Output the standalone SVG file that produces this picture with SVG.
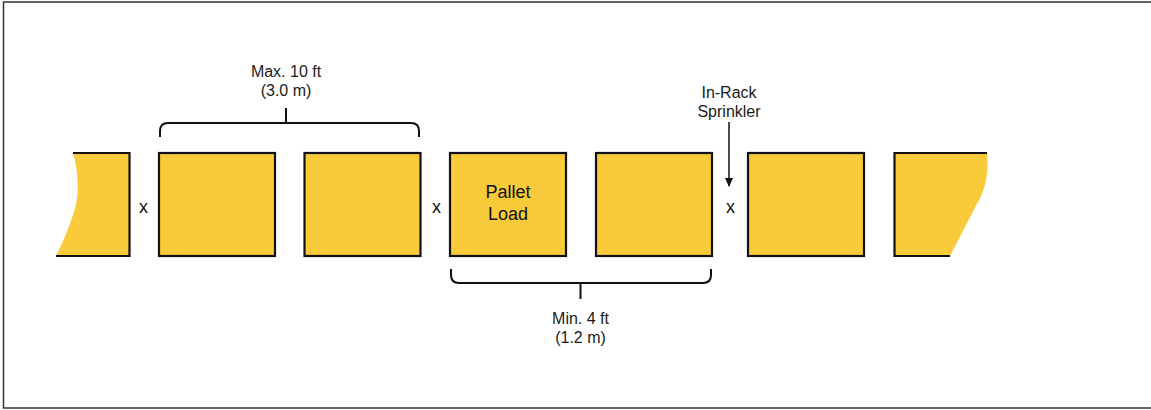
<svg xmlns="http://www.w3.org/2000/svg" width="1151" height="410" viewBox="0 0 1151 410">
<defs>
<style>
.box{fill:#F9CA39;stroke:#111;stroke-width:2.2}
.fill{fill:#F9CA39;stroke:none}
.edge{fill:none;stroke:#111;stroke-width:2.2}
.br{fill:none;stroke:#111;stroke-width:2}
.t{font-family:"Liberation Sans",Arial,sans-serif;font-size:16px;fill:#1a1a1a;text-anchor:middle}
.tx{font-family:"Liberation Sans",Arial,sans-serif;font-size:18px;fill:#111;text-anchor:middle}
.tl{font-family:"Liberation Sans",Arial,sans-serif;font-size:18px;fill:#111;text-anchor:middle}
</style>
<marker id="ah" markerWidth="10" markerHeight="10" refX="8" refY="5" orient="auto" markerUnits="userSpaceOnUse">
<path d="M0,1 L9,5 L0,9 Z" fill="#111"/>
</marker>
</defs>
<rect x="0" y="0" width="1151" height="410" fill="#fff"/>
<path d="M1151,2 H3.5 V408 H1151" fill="none" stroke="#333" stroke-width="1.5"/>

<g id="load-partial-left">
<path class="fill" d="M73,153 H129.5 V256 H56 C64,240 72,220 76,205 C79,190 78,170 73,153 Z"/>
<path class="edge" d="M73,153 H129.5 V256 H56"/>
</g>
<g id="load-1"><rect class="box" x="159" y="153" width="116" height="103"/></g>
<g id="load-2"><rect class="box" x="304.5" y="153" width="116" height="103"/></g>
<g id="load-3">
<rect class="box" x="450" y="153" width="116" height="103"/>
<text class="tl" x="508" y="198">Pallet</text>
<text class="tl" x="508" y="220">Load</text>
</g>
<g id="load-4"><rect class="box" x="596" y="153" width="116" height="103"/></g>
<g id="load-5"><rect class="box" x="748" y="153" width="116" height="103"/></g>
<g id="load-partial-right">
<path class="fill" d="M894.5,153 H987 C988,165 988,180 981,196 L950,256 H894.5 Z"/>
<path class="edge" d="M987,153 H894.5 V256 H950"/>
</g>

<g id="flue-labels">
<text class="tx" x="143.5" y="213">x</text>
<text class="tx" x="436.5" y="213">x</text>
<text class="tx" x="730.5" y="213">x</text>
</g>

<g id="labels">
<text class="t" x="286" y="77">Max. 10 ft</text>
<text class="t" x="286" y="96">(3.0 m)</text>
<text class="t" x="729" y="98">In-Rack</text>
<text class="t" x="729" y="117">Sprinkler</text>
<text class="t" x="580.5" y="324">Min. 4 ft</text>
<text class="t" x="580.5" y="343">(1.2 m)</text>
</g>

<g id="connectors">
<path class="br" d="M160,137 V131 Q160,123 168,123 H411 Q419,123 419,131 V137 M286,123 V108"/>
<path class="br" d="M451,269 V275 Q451,283 459,283 H703 Q711,283 711,275 V269 M580.5,283 V299"/>
<line x1="729" y1="122" x2="729" y2="186" stroke="#111" stroke-width="1.5" marker-end="url(#ah)"/>
</g>
</svg>
